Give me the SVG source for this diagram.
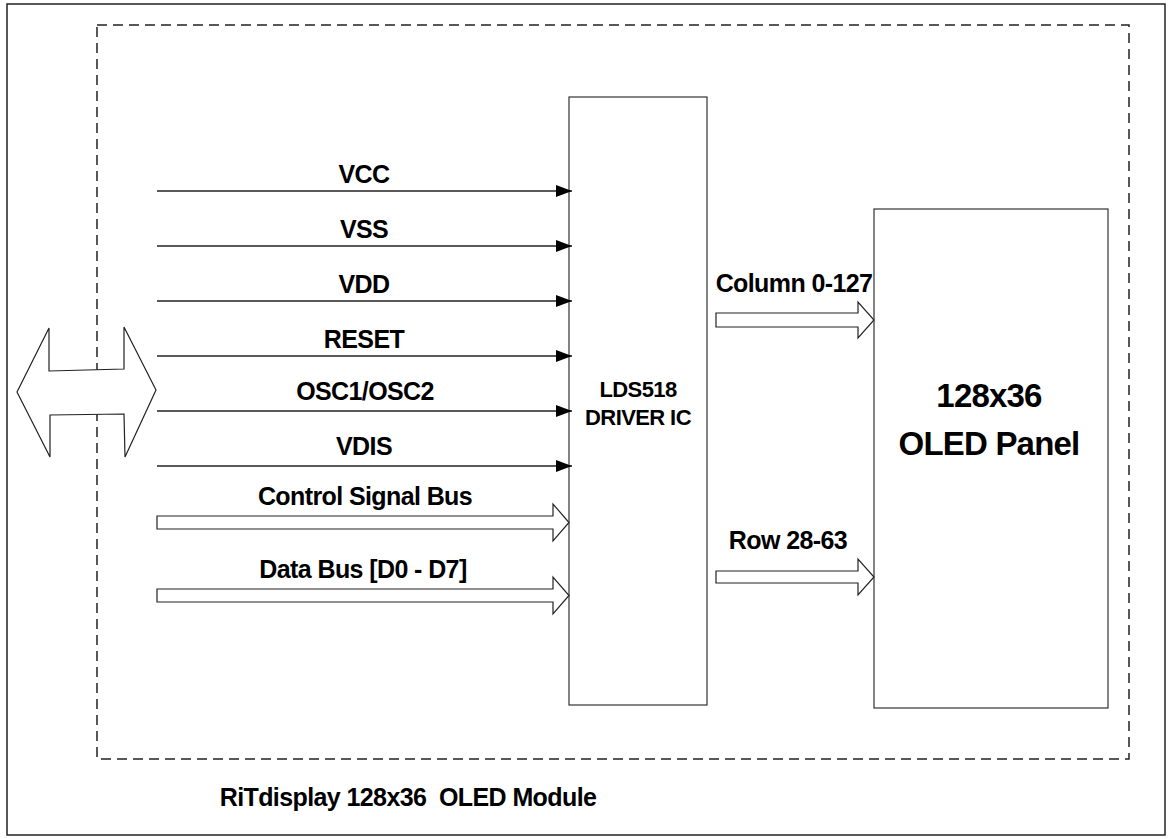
<svg xmlns="http://www.w3.org/2000/svg" width="1170" height="839" viewBox="0 0 1170 839">
<style>
text{font-family:"Liberation Sans",Arial,sans-serif;font-weight:bold;fill:#000;text-anchor:middle;}
.lbl{font-size:25px;letter-spacing:-0.6px;}
.ic{font-size:22px;letter-spacing:-0.6px;}
.pan{font-size:33px;letter-spacing:-0.8px;}
.box{fill:#fff;stroke:#333;stroke-width:1.2;}
.ln{stroke:#222;stroke-width:1.5;fill:none;}
.hol{fill:#fff;stroke:#222;stroke-width:1.2;stroke-linejoin:miter;}
</style>
<defs>
<marker id="ah" markerWidth="16" markerHeight="12" refX="16" refY="6" orient="auto" markerUnits="userSpaceOnUse">
<path d="M0,0 L16,6 L0,12 Z" fill="#000"/>
</marker>
</defs>
<rect x="7" y="4" width="1158" height="831" fill="#fff" stroke="#222" stroke-width="1.5"/>
<rect x="97" y="25" width="1032" height="734" fill="none" stroke="#222" stroke-width="1.5" stroke-dasharray="10,6"/>
<g id="bidir">
<polygon class="hol" points="17,392 49,328 49,371 124,369 124,327 156,390 125,457 124,414 50,415 50,457"/>
</g>
<g id="driver-ic">
<rect class="box" x="569" y="97" width="138" height="608"/>
<text class="ic" x="638" y="397">LDS518</text>
<text class="ic" x="638" y="425">DRIVER IC</text>
</g>
<g id="oled-panel">
<rect class="box" x="874" y="209" width="234" height="499"/>
<text class="pan" x="989" y="407">128x36</text>
<text class="pan" x="989" y="455">OLED Panel</text>
</g>
<g id="connectors">
<line class="ln" x1="157" y1="191" x2="572" y2="191" marker-end="url(#ah)"/>
<line class="ln" x1="157" y1="246" x2="572" y2="246" marker-end="url(#ah)"/>
<line class="ln" x1="157" y1="301" x2="572" y2="301" marker-end="url(#ah)"/>
<line class="ln" x1="157" y1="356" x2="572" y2="356" marker-end="url(#ah)"/>
<line class="ln" x1="157" y1="411" x2="572" y2="411" marker-end="url(#ah)"/>
<line class="ln" x1="157" y1="466" x2="572" y2="466" marker-end="url(#ah)"/>
<polygon class="hol" points="157,516 553,516 553,504 569,522.5 553,541 553,529 157,529"/>
<polygon class="hol" points="157,589 553,589 553,577 569,595.5 553,614 553,602 157,602"/>
<polygon class="hol" points="716,313 858,313 858,302 874,320 858,338 858,327 716,327"/>
<polygon class="hol" points="716,571 858,571 858,559 874,577 858,595 858,583 716,583"/>
</g>
<g id="labels">
<text class="lbl" x="364" y="183">VCC</text>
<text class="lbl" x="364" y="238">VSS</text>
<text class="lbl" x="364" y="293">VDD</text>
<text class="lbl" x="364" y="348">RESET</text>
<text class="lbl" x="365" y="400">OSC1/OSC2</text>
<text class="lbl" x="364" y="455">VDIS</text>
<text class="lbl" x="365" y="505">Control Signal Bus</text>
<text class="lbl" x="363" y="578">Data Bus [D0 - D7]</text>
<text class="lbl" x="794" y="292">Column 0-127</text>
<text class="lbl" x="788" y="549">Row 28-63</text>
<text class="lbl" x="408" y="806" style="white-space:pre">RiTdisplay 128x36  OLED Module</text>
</g>
</svg>
